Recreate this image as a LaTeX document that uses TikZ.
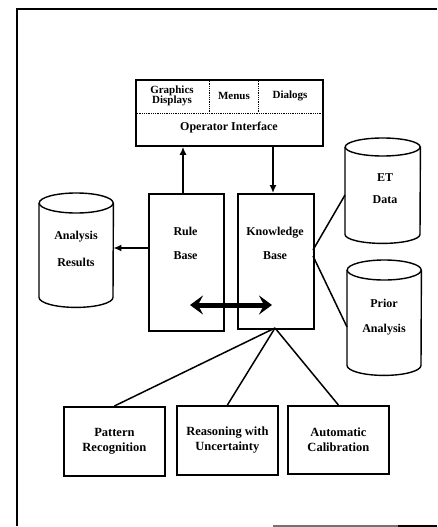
\documentclass[tikz,border=0pt]{standalone}
\usepackage{fontspec}
\setmainfont{Liberation Serif}
\usetikzlibrary{arrows.meta,calc}

\tikzset{
  box/.style={draw, line width=1.8pt, rectangle, inner sep=0pt},
  drumbody/.style={rectangle, inner sep=0pt},
  drumline/.style={line width=1.4pt},
  lbl/.style={font=\bfseries\fontsize{12}{24}\selectfont, align=center, inner sep=0pt},
  smalllbl/.style={font=\bfseries\fontsize{11}{10.5}\selectfont, align=center, inner sep=0pt},
  boxlbl/.style={font=\bfseries\fontsize{12.5}{15}\selectfont, align=center, inner sep=0pt},
  link/.style={line width=1.5pt},
  arr/.style={line width=1.5pt, -{Latex[length=8pt,width=7pt]}},
  swap/.style={line width=5pt, {Stealth[length=13pt,width=19pt,inset=5pt]}-{Stealth[length=13pt,width=19pt,inset=5pt]}},
  divider/.style={line width=0.8pt, densely dotted},
}

\begin{document}
\begin{tikzpicture}[x=1pt,y=-1pt]
\useasboundingbox (0,0) rectangle (437,527);

% frame
\coordinate (f1) at (17,526);
\coordinate (f2) at (17,9);
\coordinate (f3) at (437,9);
\coordinate (f4) at (273,526);
\coordinate (f5) at (398,526);
\coordinate (f6) at (437,526);
\draw[line width=2pt] (f1) -- (f2) -- (f3);
\draw[line width=1.5pt, black!55] (f4) -- (f5);
\draw[line width=2pt] (f5) -- (f6);

% operator interface
\node[box, anchor=north west, minimum width=187pt, minimum height=66pt] (opif) at (135,79) {};
\coordinate (hdl) at (135,113);
\coordinate (hdr) at (322,113);
\coordinate (v1t) at (209,79);
\coordinate (v1b) at (209,113);
\coordinate (v2t) at (258,79);
\coordinate (v2b) at (258,113);
\draw[divider] (hdl) -- (hdr);
\draw[divider] (v1t) -- (v1b);
\draw[divider] (v2t) -- (v2b);
\node[smalllbl] (gfx) at (172,96) {Graphics\\Displays};
\node[smalllbl] (menus) at (234,96) {Menus};
\node[smalllbl] (dialogs) at (290,96) {Dialogs};
\node[lbl] (opiftxt) at (229,128) {Operator Interface};

% rule base and knowledge base
\node[box, anchor=north west, minimum width=75pt, minimum height=137pt] (rule) at (148,193) {};
\node[box, anchor=north west, minimum width=76pt, minimum height=135pt] (kb) at (237,193) {};
\node[lbl] (ruletxt) at (185.5,243.5) {Rule\\Base};
\node[lbl] (kbtxt) at (275,243.5) {Knowledge\\Base};

% data stores
\node[drumbody, anchor=north west, minimum width=74pt, minimum height=114pt] (res) at (39,193) {};
\node[drumbody, anchor=north west, minimum width=75pt, minimum height=105pt] (et) at (345,138) {};
\node[drumbody, anchor=north west, minimum width=74pt, minimum height=115pt] (prior) at (347,260) {};

% drum outlines: node / end-ellipse half height / half width
\foreach \d/\r/\w in {res/10/37, et/9/37.5, prior/10/37}{
  \draw[drumline] ($(\d.north)+(0,\r)$) ellipse [x radius=\w, y radius=\r];
  \draw[drumline] ($(\d.north west)+(0,\r)$) -- ($(\d.south west)+(0,-\r)$)
    arc [start angle=180, end angle=0, x radius=\w, y radius=\r]
    -- ($(\d.north east)+(0,\r)$);
}
\node[font=\bfseries\fontsize{12}{27}\selectfont, align=center, inner sep=0pt] (restxt) at (76,248.5) {Analysis\\Results};
\node[font=\bfseries\fontsize{12}{22}\selectfont, align=center, inner sep=0pt] (ettxt) at (385,189) {ET\\Data};
\node[font=\bfseries\fontsize{12}{25}\selectfont, align=center, inner sep=0pt] (priortxt) at (384,317.5) {Prior\\Analysis};

% analysis modules
\node[box, anchor=north west, minimum width=101pt, minimum height=69pt] (pat) at (63,406) {};
\node[box, anchor=north west, minimum width=101pt, minimum height=69pt] (rea) at (176,405) {};
\node[box, anchor=north west, minimum width=101pt, minimum height=68pt] (aut) at (287,405) {};
\node[boxlbl] (pattxt) at (pat.center) {Pattern\\Recognition};
\node[boxlbl] (reatxt) at (rea.center) {Reasoning with\\Uncertainty};
\node[boxlbl] (auttxt) at (aut.center) {Automatic\\Calibration};

% connectors
\coordinate (upx) at (183,0);
\coordinate (dnx) at (273,0);
\draw[arr] (rule.north -| upx) -- (opif.south -| upx);
\draw[arr] (opif.south -| dnx) -- (kb.north -| dnx);

\coordinate (outy) at (0,248);
\draw[arr] (rule.west |- outy) -- (res.east |- outy);

\coordinate (kbr1) at (313,250);
\coordinate (kbr2) at (313,256);
\coordinate (etl) at (345,195);
\coordinate (prl) at (347,327);
\draw[link] (kbr1) -- (etl);
\draw[link] (kbr2) -- (prl);

\coordinate (kbb) at (275,328);
\draw[link] (kbb) -- (pat.north);
\draw[link] (kbb) -- (rea.north);
\draw[link] (kbb) -- (aut.north);

\coordinate (swl) at (190,305);
\coordinate (swr) at (272,305);
\draw[swap] (swl) -- (swr);
\end{tikzpicture}
\end{document}
